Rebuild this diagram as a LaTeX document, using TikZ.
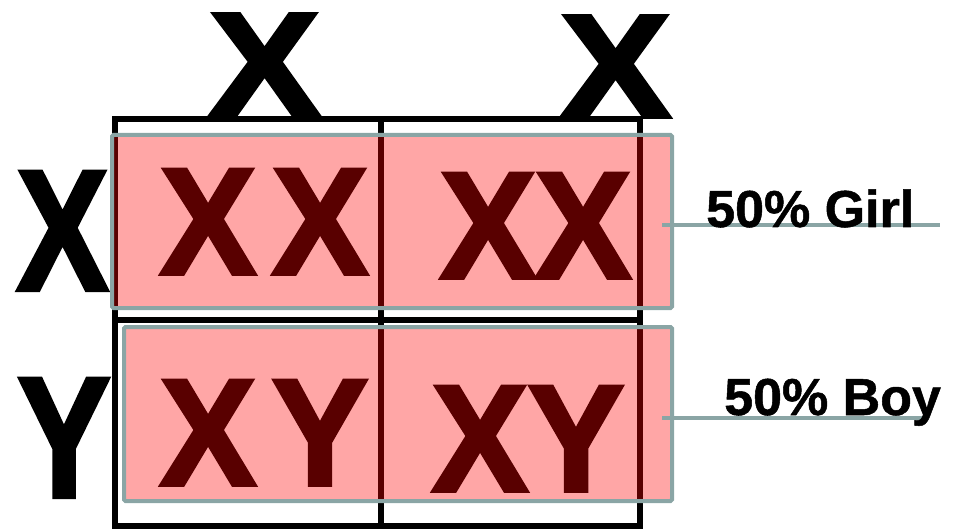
\documentclass[tikz,border=0pt]{standalone}
\usepackage{fontspec}
\setmainfont{Liberation Sans}
\newfontfamily\heavy{Liberation Sans Bold}[FakeBold=2.5]
\newfontfamily\labelfont{Liberation Sans Bold}[FakeBold=1]
\usepackage{graphicx}

\definecolor{linkgray}{HTML}{8AA5A5}

\tikzset{
  allele/.style={inner sep=0pt, anchor=base},
  geno/.style={inner sep=0pt, anchor=base, font=\fontsize{152}{152}\selectfont\heavy},
  rowbox/.style={draw=linkgray, line width=4pt, fill=red, fill opacity=0.35,
    draw opacity=1, rounded corners=1.5pt, inner sep=0pt},
  link/.style={draw=linkgray, line width=4pt},
  ratio/.style={inner sep=0pt, anchor=base west, font=\fontsize{52}{52}\selectfont\labelfont},
}

\begin{document}
\begin{tikzpicture}[x=1pt, y=-1pt]
	\useasboundingbox (0,0) rectangle (955,529);

	% punnett grid
	\draw[line width=5.5pt] (115,119) rectangle (640,526);
	\draw[line width=5.5pt] (381,119) -- (381,526);
	\draw[line width=5.5pt] (115,320) -- (640,320);

	% parents
	\node[allele] (p1) at (264.5,115) {\fontsize{147}{147}\selectfont\heavy\scalebox{1.13}[1]{X}};
	\node[allele] (p2) at (615.5,117) {\fontsize{147}{147}\selectfont\heavy\scalebox{1.13}[1]{X}};
	\node[allele] (m1) at (62.5,290) {\fontsize{172}{172}\selectfont\heavy\scalebox{0.8}[1]{X}};
	\node[allele] (m2) at (64,497) {\fontsize{172}{172}\selectfont\heavy\scalebox{0.81}[1]{Y}};

	% offspring
	\node[geno] (a1) at (208,274) {\scalebox{0.95}[1]{X}};
	\node[geno] (a2) at (320,274) {\scalebox{0.95}[1]{X}};
	\node[geno] (b1) at (488,278) {\scalebox{0.95}[1]{X}};
	\node[geno] (b2) at (583,278) {\scalebox{0.95}[1]{X}};
	\node[geno] (c1) at (208,485) {\scalebox{0.95}[1]{X}};
	\node[geno] (c2) at (320,485) {\scalebox{0.95}[1]{Y}};
	\node[geno] (d1) at (480,491) {\scalebox{0.95}[1]{X}};
	\node[geno] (d2) at (576,491) {\scalebox{0.95}[1]{Y}};

	% rows
	\node[rowbox, minimum width=560pt, minimum height=173pt] (girlrow) at (392,221.5) {};
	\node[rowbox, minimum width=548pt, minimum height=174pt] (boyrow) at (398,414) {};

	\coordinate (girlend) at (940,225);
	\coordinate (boyend) at (925,418);
	\draw[link] ([xshift=-12pt,yshift=-3.5pt]girlrow.east) -- (girlend);
	\draw[link] ([xshift=-12pt,yshift=-4pt]boyrow.east) -- (boyend);

	\node[ratio] (girl) at (706,227) {50\% Girl};
	\node[ratio] (boy) at (724,415) {50\% Boy};
\end{tikzpicture}
\end{document}
